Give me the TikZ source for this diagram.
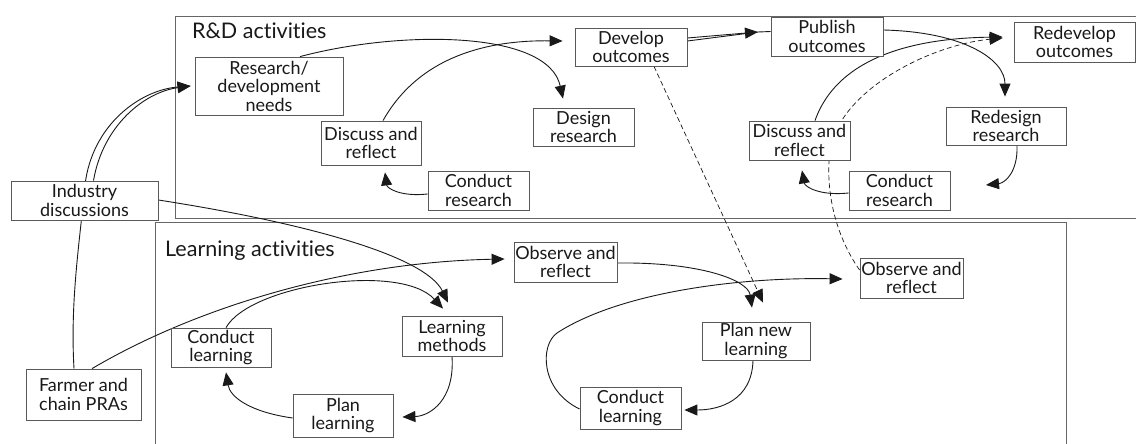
\documentclass[tikz,border=0pt]{standalone}
\usepackage{fontspec}
\setmainfont[Ligatures=NoCommon]{Lato}
\usetikzlibrary{arrows.meta,backgrounds,calc}
\begin{document}
\begin{tikzpicture}[x=1pt,y=-1pt,
 box/.style={draw=black!65, line width=0.8pt, fill=white, align=center, inner sep=0pt, font=\fontsize{18}{18.5}\selectfont, text=black!90},
 arr/.style={draw=black!90, line width=0.9pt, -{Triangle[length=13pt,width=11pt]}},
 con/.style={draw=black!90, line width=0.9pt},
 dsh/.style={arr, dash pattern=on 5pt off 3pt, line width=0.7pt},
 panel/.style={draw=black!60, line width=0.9pt},
 heading/.style={font=\fontsize{21.5}{24}\selectfont, text=black!90, anchor=base west, inner sep=0pt}]
\useasboundingbox (0,0) rectangle (1136,444);

% headings
\node[heading] (rdh) at (192,39) {R\&D activities};
\node[heading] (lah) at (165,256) {Learning activities};

% R&D nodes
\node[box, minimum width=147, minimum height=39] (ind) at (84.5,200.5) {Industry\\discussions};
\node[box, minimum width=148, minimum height=58] (rdn) at (269,86) {Research/\\development\\needs};
\node[box, minimum width=100, minimum height=44] (dr1) at (371,143) {Discuss and\\reflect};
\node[box, minimum width=101, minimum height=39] (cr1) at (478.5,190.5) {Conduct\\research};
\node[box, minimum width=101, minimum height=38] (des) at (583.5,127) {Design\\research};
\node[box, minimum width=112, minimum height=38] (dev) at (631,47) {Develop\\outcomes};
\node[box, minimum width=112, minimum height=39] (pub) at (827,36.5) {Publish\\outcomes};
\node[box, minimum width=121, minimum height=40] (rdv) at (1074.5,42) {Redevelop\\outcomes};
\node[box, minimum width=120, minimum height=38] (rds) at (1006,126) {Redesign\\research};
\node[box, minimum width=101, minimum height=39] (dr2) at (799.5,140.5) {Discuss and\\reflect};
\node[box, minimum width=101, minimum height=39] (cr2) at (899.5,190.5) {Conduct\\research};

% Learning nodes
\node[box, minimum width=115, minimum height=51] (frm) at (83.5,394.5) {Farmer and\\chain PRAs};
\node[box, minimum width=100, minimum height=39] (cl1) at (221,347.5) {Conduct\\learning};
\node[box, minimum width=100, minimum height=43] (pl) at (343,415.5) {Plan\\learning};
\node[box, minimum width=100, minimum height=40] (lm) at (452,336) {Learning\\methods};
\node[box, minimum width=103, minimum height=40] (or1) at (565.5,262) {Observe and\\reflect};
\node[box, minimum width=108, minimum height=38] (pnl) at (756,341) {Plan new\\learning};
\node[box, minimum width=101, minimum height=42] (cl2) at (630.5,408) {Conduct\\learning};
\node[box, minimum width=103, minimum height=40] (or2) at (911.5,278) {Observe and\\reflect};

% free ends
\coordinate (pubtip) at (758,32);
\coordinate (rdsend) at (986,185);
\coordinate (loopbend) at (557,333);

\begin{scope}[on background layer]
% panels
\draw[panel] (1137,16) -- (175,16) -- (175,218) -- (1137,218);
\draw[panel] (155,445) -- (155,222) -- (1066,222) -- (1066,445);

% inputs
\draw[arr] ($(frm.north)+(-9.5,0)$) .. controls (70,300) and (80,240) .. (85,185)
   .. controls (92,125) and (140,90) .. ($(rdn.west)+(-4,0)$);
\draw[arr] ($(ind.north)+(9,0)$) .. controls (103,125) and (145,92) .. ($(rdn.west)+(-4,0)$);
\draw[arr] ($(ind.east)+(0,-0.5)$) .. controls (300,222) and (425,255) .. ($(lm.north)+(-4,-13)$);
\draw[arr] ($(frm.north)+(8.5,0)$) .. controls (200,305) and (350,262) .. ($(or1.west)+(-9,-3)$);

% R&D cycle 1
\draw[arr] ($(rdn.north)+(31,0)$) .. controls (400,30) and (548,30) .. ($(des.north)+(-20.5,-9)$);
\draw[arr] ($(dr1.north)+(12,0)$) .. controls (420,55) and (490,40) .. ($(dev.west)+(-12,-6)$);
\draw[arr] ($(cr1.west)+(0,3.5)$) .. controls (400,197) and (387,188) .. ($(dr1.south)+(14,7)$);
\draw[arr] ($(dev.east)+(0,-9)$) -- (pubtip);
\draw[con] ($(dev.east)+(0,-6)$) -- (pubtip) -- ($(pub.west)+(0,-5)$);

% R&D cycle 2
\draw[arr] ($(pub.east)+(0,-6.5)$) .. controls (965,32) and (1005,60) .. ($(rds.north)+(-1,-10)$);
\draw[arr] ($(dr2.north)+(15.5,0)$) .. controls (840,50) and (930,38) .. ($(rdv.west)+(-11,-5)$);
\draw[arr] ($(rds.south)+(11,0)$) .. controls (1018,172) and (1005,183) .. (rdsend);
\draw[arr] ($(cr2.west)+(0,2.5)$) .. controls (820,196) and (805,187) .. ($(dr2.south)+(2.5,10)$);
\draw[dsh] ($(or2.west)+(0,-8)$) .. controls (835,235) and (825,190) .. (830,150)
   .. controls (840,90) and (930,45) .. ($(rdv.west)+(-11,-4)$);
\draw[dsh] ($(dev.south)+(23,0)$) -- ($(pnl.north)+(7,-19)$);

% Learning cycle 1
\draw[arr] ($(cl1.north)+(5,0)$) .. controls (250,285) and (400,262) .. ($(lm.north)+(-9,-7)$);
\draw[arr] (lm.south) .. controls (455,400) and (430,416) .. ($(pl.east)+(9,1.5)$);
\draw[arr] ($(pl.west)+(0,2.5)$) .. controls (250,412) and (230,397) .. ($(cl1.south)+(5,5)$);

% Learning cycle 2
\draw[arr] ($(or1.east)+(0,1)$) .. controls (700,262) and (748,280) .. ($(pnl.north)+(-4,-14)$);
\draw[arr] ($(pnl.south)+(-3,0)$) .. controls (752,400) and (720,410) .. ($(cl2.east)+(3,2)$);
\draw[con] ($(cl2.west)+(0,1)$) .. controls (540,390) and (540,345) .. (loopbend);
\draw[arr] (loopbend) .. controls (620,292) and (740,277) .. ($(or2.west)+(-17,1)$);
\end{scope}
\end{tikzpicture}
\end{document}
